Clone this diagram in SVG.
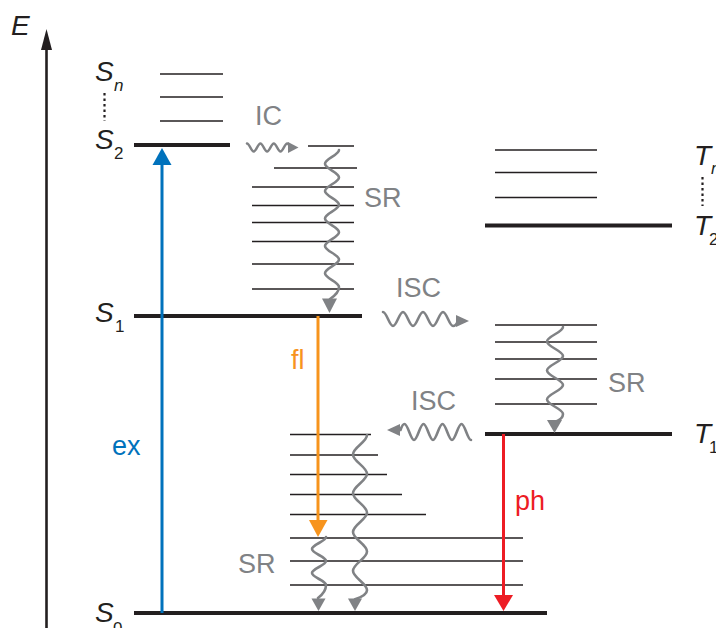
<svg xmlns="http://www.w3.org/2000/svg" width="716" height="628" viewBox="0 0 716 628">
<style>
  .thin { stroke: #231f20; stroke-width: 1.6; fill: none; }
  .thick { stroke: #231f20; stroke-width: 4; fill: none; }
  .wave { stroke: #808285; stroke-width: 2.6; fill: none; stroke-linecap: round; }
  .whead { fill: #808285; }
  .lbl { font-family: "Liberation Sans", Arial, sans-serif; font-size: 27px; }
  .gray { fill: #808285; }
  .st { font-family: "Liberation Sans", Arial, sans-serif; font-size: 28px; font-style: italic; fill: #231f20; }
  .sub { font-family: "Liberation Sans", Arial, sans-serif; font-size: 17px; fill: #231f20; }
  .dots { stroke: #231f20; stroke-width: 2.2; stroke-dasharray: 2.5 3; fill: none; }
</style>
<rect width="716" height="628" fill="#ffffff"/>

<g id="axis">
  <line x1="46.5" y1="628" x2="46.5" y2="48" stroke="#231f20" stroke-width="2.6"/>
  <polygon points="46.5,29 41,50 52,50" fill="#231f20"/>
  <text class="st" x="11" y="35">E</text>
</g>

<g id="Sn">
  <line class="thin" x1="160" y1="74" x2="223" y2="74"/>
  <line class="thin" x1="160" y1="97" x2="223" y2="97"/>
  <line class="thin" x1="160" y1="121" x2="223" y2="121"/>
  <text class="st" x="95" y="81">S</text>
  <text class="sub" x="114" y="91" font-style="italic">n</text>
  <line class="dots" x1="104.5" y1="93" x2="104.5" y2="121"/>
</g>

<g id="S2">
  <line class="thick" x1="134" y1="145" x2="230" y2="145"/>
  <text class="st" x="95" y="149">S</text>
  <text class="sub" x="114" y="159">2</text>
  <line class="thin" x1="308" y1="146" x2="354" y2="146"/>
  <line class="thin" x1="274" y1="168" x2="357" y2="168"/>
  <line class="thin" x1="252" y1="187" x2="354" y2="187"/>
  <line class="thin" x1="252" y1="205.5" x2="354" y2="205.5"/>
  <line class="thin" x1="252" y1="222.5" x2="354" y2="222.5"/>
  <line class="thin" x1="252" y1="241.5" x2="354" y2="241.5"/>
  <line class="thin" x1="252" y1="264" x2="354" y2="264"/>
  <line class="thin" x1="252" y1="289" x2="354" y2="289"/>
</g>

<g id="S1">
  <line class="thick" x1="134" y1="316" x2="362" y2="316"/>
  <text class="st" x="95" y="322">S</text>
  <text class="sub" x="115" y="332">1</text>
</g>

<g id="S0">
  <line class="thin" x1="290" y1="434.5" x2="371" y2="434.5"/>
  <line class="thin" x1="290" y1="455" x2="378" y2="455"/>
  <line class="thin" x1="290" y1="474.5" x2="387" y2="474.5"/>
  <line class="thin" x1="290" y1="494.5" x2="402" y2="494.5"/>
  <line class="thin" x1="290" y1="514.5" x2="426" y2="514.5"/>
  <line class="thin" x1="290" y1="538" x2="523" y2="538"/>
  <line class="thin" x1="290" y1="561" x2="523" y2="561"/>
  <line class="thin" x1="290" y1="585" x2="523" y2="585"/>
  <line class="thick" x1="134" y1="613" x2="547" y2="613"/>
  <text class="st" x="95" y="622">S</text>
  <text class="sub" x="113" y="634">0</text>
</g>

<g id="Tn">
  <line class="thin" x1="495" y1="150" x2="597" y2="150"/>
  <line class="thin" x1="495" y1="172.5" x2="597" y2="172.5"/>
  <line class="thin" x1="495" y1="197.5" x2="597" y2="197.5"/>
  <text class="st" x="694" y="165">T</text>
  <text class="sub" x="711" y="174" font-style="italic">n</text>
  <line class="dots" x1="702.5" y1="177" x2="702.5" y2="206"/>
</g>

<g id="T2">
  <line class="thick" x1="485" y1="225.5" x2="672" y2="225.5"/>
  <text class="st" x="694" y="235">T</text>
  <text class="sub" x="709" y="245">2</text>
</g>

<g id="T1">
  <line class="thin" x1="495" y1="325" x2="597" y2="325"/>
  <line class="thin" x1="495" y1="342" x2="597" y2="342"/>
  <line class="thin" x1="495" y1="359" x2="597" y2="359"/>
  <line class="thin" x1="495" y1="379" x2="597" y2="379"/>
  <line class="thin" x1="495" y1="404" x2="597" y2="404"/>
  <line class="thick" x1="485" y1="434" x2="672" y2="434"/>
  <text class="st" x="694" y="443">T</text>
  <text class="sub" x="709" y="453">1</text>
</g>

<g id="connectors">
  <line x1="162" y1="613" x2="162" y2="160" stroke="#0072bc" stroke-width="3"/>
  <polygon points="162,148 152.5,165 171.5,165" fill="#0072bc"/>
  <text class="lbl" x="112" y="455" fill="#0072bc">ex</text>

  <line x1="318" y1="316" x2="318" y2="525" stroke="#f7941d" stroke-width="3"/>
  <polygon points="318,537 309,520 327.5,520" fill="#f7941d"/>
  <text class="lbl" x="291" y="369" fill="#f7941d">fl</text>

  <line x1="503.5" y1="434" x2="503.5" y2="600" stroke="#ed1c24" stroke-width="3"/>
  <polygon points="503.5,611 494,595 513,595" fill="#ed1c24"/>
  <text class="lbl" x="515" y="510" fill="#ed1c24">ph</text>

  <path class="wave" d="M247,143.5 c2.41,0 4.29,8 6.7,8 s4.29,-8 6.7,-8 s4.29,8 6.7,8 s4.29,-8 6.7,-8 s4.29,8 6.7,8 s4.29,-8 6.7,-8 q1.5,0 2.8,4"/>
  <polygon class="whead" points="298.5,147.5 288,142 288,153"/>
  <text class="lbl gray" x="255" y="125">IC</text>

  <path class="wave" d="M339,150 c0,4.93 -14,8.77 -14,13.7 s14,8.77 14,13.7 s-14,8.77 -14,13.7 s14,8.77 14,13.7 s-14,8.77 -14,13.7 s14,8.77 14,13.7 s-14,8.77 -14,13.7 s14,8.77 14,13.7 s-14,8.77 -14,13.7 s14,8.77 14,13.7 q0,6 -9,12"/>
  <polygon class="whead" points="329.5,313 322,298.5 337,298.5"/>
  <text class="lbl gray" x="364" y="207">SR</text>

  <path class="wave" d="M383,312 c3.6,0 6.4,14 10,14 s6.4,-14 10,-14 s6.4,14 10,14 s6.4,-14 10,-14 s6.4,14 10,14 s6.4,-14 10,-14 s6.4,14 10,14 q3,0 5,-5"/>
  <polygon class="whead" points="469,321 456,315 456,327"/>
  <text class="lbl gray" x="396" y="297">ISC</text>

  <path class="wave" d="M563,327 c0,5.22 -16,9.28 -16,14.5 s16,9.28 16,14.5 s-16,9.28 -16,14.5 s16,9.28 16,14.5 s-16,9.28 -16,14.5 s16,9.28 16,14.5 q0,5 -8,8"/>
  <polygon class="whead" points="554.5,433 547,420 562,420"/>
  <text class="lbl gray" x="608" y="392">SR</text>

  <path class="wave" d="M471,440 c-3.42,0 -6.08,-16 -9.5,-16 s-6.08,16 -9.5,16 s-6.08,-16 -9.5,-16 s-6.08,16 -9.5,16 s-6.08,-16 -9.5,-16 s-6.08,16 -9.5,16 s-6.08,-16 -9.5,-16 q-2,0 -4,6"/>
  <polygon class="whead" points="387,430 400,424 400,436"/>
  <text class="lbl gray" x="411" y="410">ISC</text>

  <path class="wave" d="M326,537 c0,4.32 -14,7.68 -14,12 s14,7.68 14,12 s-14,7.68 -14,12 s14,7.68 14,12 q0,7 -8,13"/>
  <polygon class="whead" points="318.5,611 311.5,598.5 325.5,598.5"/>
  <path class="wave" d="M367,435 c0,6.98 -14,12.42 -14,19.4 s14,12.42 14,19.4 s-14,12.42 -14,19.4 s14,12.42 14,19.4 s-14,12.42 -14,19.4 s14,12.42 14,19.4 s-14,12.42 -14,19.4 s14,12.42 14,19.4 q0,5 -12,9"/>
  <polygon class="whead" points="355,611 348,598.5 362,598.5"/>
  <text class="lbl gray" x="238" y="573">SR</text>
</g>
</svg>
